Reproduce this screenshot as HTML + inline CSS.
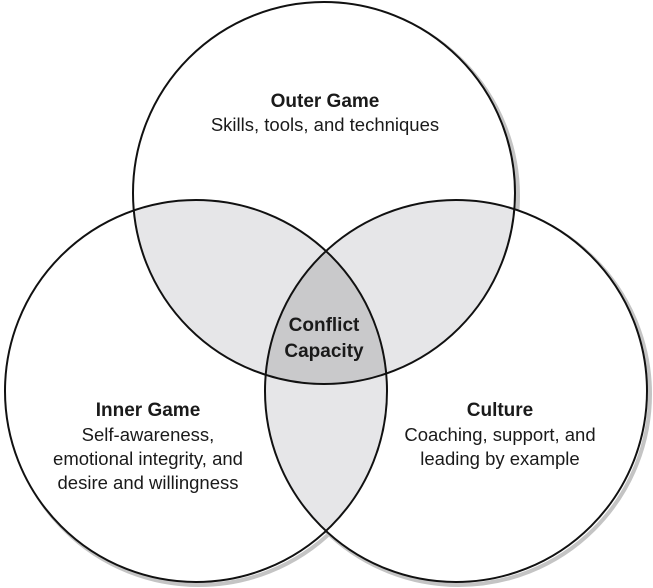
<!DOCTYPE html>
<html><head><style>body{margin:0;background:#fff}svg{display:block}</style></head><body>
<svg width="653" height="588" viewBox="0 0 653 588" xmlns="http://www.w3.org/2000/svg" font-family="Liberation Sans, sans-serif">
<defs>
<clipPath id="cT"><circle cx="324" cy="193" r="191"/></clipPath>
<clipPath id="cL"><circle cx="196" cy="391" r="191"/></clipPath>
<clipPath id="cR"><circle cx="456" cy="391" r="191"/></clipPath>
</defs>
<g fill="none" stroke="#c4c4c4" stroke-width="4">
<circle cx="327" cy="196" r="191"/>
<circle cx="199" cy="394" r="191"/>
<circle cx="459" cy="394" r="191"/>
</g>
<circle cx="324" cy="193" r="191" fill="#fff"/>
<circle cx="196" cy="391" r="191" fill="#fff"/>
<circle cx="456" cy="391" r="191" fill="#fff"/>
<g clip-path="url(#cT)"><circle cx="196" cy="391" r="191" fill="#e6e6e8"/><circle cx="456" cy="391" r="191" fill="#e6e6e8"/></g>
<g clip-path="url(#cL)"><circle cx="456" cy="391" r="191" fill="#e6e6e8"/></g>
<g clip-path="url(#cT)"><g clip-path="url(#cL)"><circle cx="456" cy="391" r="191" fill="#c9c9cb"/></g></g>
<g fill="none" stroke="#111" stroke-width="2">
<circle cx="324" cy="193" r="191"/>
<circle cx="196" cy="391" r="191"/>
<circle cx="456" cy="391" r="191"/>
</g>
<g text-anchor="middle" fill="#1a1a1a" font-size="18.5">
<text x="325" y="107" font-weight="bold" font-size="19">Outer Game</text>
<text x="325" y="131">Skills, tools, and techniques</text>
<text x="324" y="331" font-weight="bold" font-size="19">Conflict</text>
<text x="324" y="357" font-weight="bold" font-size="19">Capacity</text>
<text x="148" y="416" font-weight="bold" font-size="19">Inner Game</text>
<text x="148" y="441">Self-awareness,</text>
<text x="148" y="465">emotional integrity, and</text>
<text x="148" y="489">desire and willingness</text>
<text x="500" y="416" font-weight="bold" font-size="19">Culture</text>
<text x="500" y="441">Coaching, support, and</text>
<text x="500" y="465">leading by example</text>
</g>
</svg>
</body></html>
